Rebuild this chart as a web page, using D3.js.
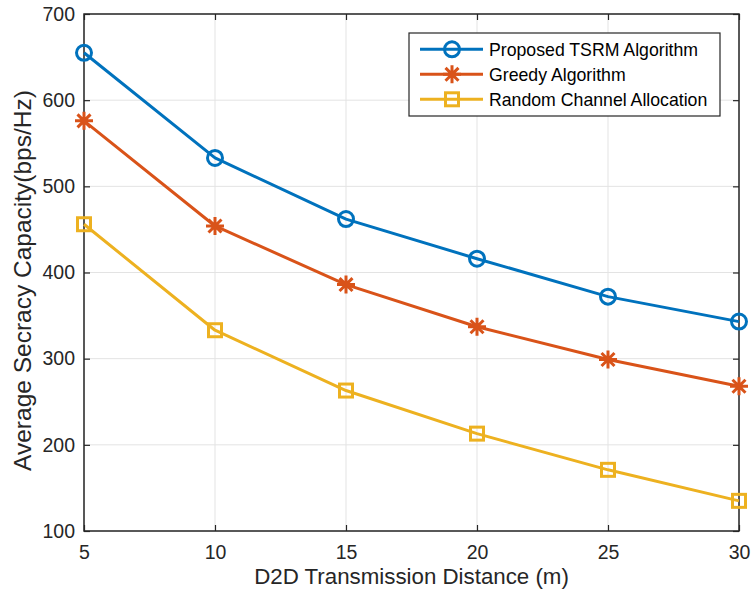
<!DOCTYPE html>
<html>
<head>
<meta charset="utf-8">
<script src="https://cdn.jsdelivr.net/npm/d3@7"></script>
<style>
  html, body { margin: 0; padding: 0; background: #fff; }
  svg { display: block; font-family: "Liberation Sans", Arial, Helvetica, sans-serif; }
</style>
</head>
<body>
<svg id="chart" width="751" height="600"></svg>
<script>
// Transmission distance (m)
const distances = [5, 10, 15, 20, 25, 30];
// Average secrecy capacity (bps/Hz) per scheme
const tsrmValues   = [655, 533, 462, 416, 372, 343];
const greedyValues = [576, 454, 386, 337, 299, 268];
const randomValues = [456, 333, 263, 213, 171, 135];
const seriesNames = ["Proposed TSRM Algorithm", "Greedy Algorithm", "Random Channel Allocation"];
const xTicks = [5, 10, 15, 20, 25, 30];
const yTicks = [100, 200, 300, 400, 500, 600, 700];

const series = [
  { name: seriesNames[0], values: tsrmValues,   color: "#0072BD", marker: "circle" },
  { name: seriesNames[1], values: greedyValues, color: "#D95319", marker: "asterisk" },
  { name: seriesNames[2], values: randomValues, color: "#EDB120", marker: "square" }
];

const svg = d3.select("#chart");
const plotL = 84, plotR = 739, plotT = 14, plotB = 531;

const x = d3.scaleLinear().domain([5, 30]).range([plotL, plotR]);
const y = d3.scaleLinear().domain([100, 700]).range([plotB, plotT]);

// Grid lines
const grid = svg.append("g").attr("stroke", "#e3e3e3").attr("stroke-width", 1);
xTicks.forEach(t => grid.append("line")
  .attr("x1", x(t)).attr("x2", x(t)).attr("y1", plotT).attr("y2", plotB));
yTicks.forEach(t => grid.append("line")
  .attr("x1", plotL).attr("x2", plotR).attr("y1", y(t)).attr("y2", y(t)));

// Axes box
svg.append("rect").attr("x", plotL).attr("y", plotT)
  .attr("width", plotR - plotL).attr("height", plotB - plotT)
  .attr("fill", "none").attr("stroke", "#262626").attr("stroke-width", 1.5);

const xAxis = svg.append("g").attr("transform", `translate(0,${plotB})`)
  .call(d3.axisBottom(x).tickValues(xTicks).tickSize(-6).tickPadding(14).tickFormat(d3.format("d")));
const xAxisTop = svg.append("g").attr("transform", `translate(0,${plotT})`)
  .call(d3.axisTop(x).tickValues(xTicks).tickSize(-6).tickFormat(""));
const yAxis = svg.append("g").attr("transform", `translate(${plotL},0)`)
  .call(d3.axisLeft(y).tickValues(yTicks).tickSize(-6).tickPadding(9).tickFormat(d3.format("d")));
const yAxisRight = svg.append("g").attr("transform", `translate(${plotR},0)`)
  .call(d3.axisRight(y).tickValues(yTicks).tickSize(-6).tickFormat(""));

[xAxis, xAxisTop, yAxis, yAxisRight].forEach(g => {
  g.select(".domain").remove();
  g.selectAll(".tick line").attr("stroke", "#262626").attr("stroke-width", 1.2);
  g.selectAll(".tick text").attr("fill", "#262626").attr("font-size", 19.5)
    .attr("font-family", "Liberation Sans, Arial, sans-serif");
});

// Axis titles
svg.append("text").attr("x", (plotL + plotR) / 2).attr("y", 584)
  .attr("text-anchor", "middle").attr("font-size", 22.3).attr("fill", "#262626")
  .text("D2D Transmission Distance (m)");
svg.append("text")
  .attr("transform", `translate(30.5,280.5) rotate(-90)`)
  .attr("text-anchor", "middle").attr("font-size", 24.5).attr("fill", "#262626")
  .text("Average Secracy Capacity(bps/Hz)");

function drawMarker(g, type, cx, cy, color) {
  if (type === "circle") {
    g.append("circle").attr("cx", cx).attr("cy", cy).attr("r", 7.5)
      .attr("fill", "none").attr("stroke", color).attr("stroke-width", 3);
  } else if (type === "square") {
    g.append("rect").attr("x", cx - 6.5).attr("y", cy - 6.5).attr("width", 13).attr("height", 13)
      .attr("fill", "none").attr("stroke", color).attr("stroke-width", 3);
  } else {
    const r = 9;
    const p = d3.path();
    p.moveTo(cx - r, cy); p.lineTo(cx + r, cy);
    p.moveTo(cx, cy - r); p.lineTo(cx, cy + r);
    const d = r * 0.72;
    p.moveTo(cx - d, cy - d); p.lineTo(cx + d, cy + d);
    p.moveTo(cx - d, cy + d); p.lineTo(cx + d, cy - d);
    g.append("path").attr("d", p.toString()).attr("stroke", color).attr("stroke-width", 3)
      .attr("stroke-linecap", "butt");
  }
}

const line = d3.line().x((d, i) => x(distances[i])).y(d => y(d));
series.forEach(s => {
  const g = svg.append("g");
  g.append("path").datum(s.values).attr("d", line)
    .attr("fill", "none").attr("stroke", s.color).attr("stroke-width", 3)
    .attr("stroke-linejoin", "round");
  s.values.forEach((v, i) => drawMarker(g, s.marker, x(distances[i]), y(v), s.color));
});

// Legend
const lg = svg.append("g");
lg.append("rect").attr("x", 409).attr("y", 33).attr("width", 311).attr("height", 83)
  .attr("fill", "#fff").attr("stroke", "#262626").attr("stroke-width", 1.2);
series.forEach((s, i) => {
  const ly = 49.3 + i * 25;
  lg.append("line").attr("x1", 420).attr("x2", 483).attr("y1", ly).attr("y2", ly)
    .attr("stroke", s.color).attr("stroke-width", 3);
  drawMarker(lg, s.marker, 452, ly, s.color);
  lg.append("text").attr("x", 489).attr("y", ly + 6.3).attr("font-size", 17.7)
    .attr("fill", "#000").text(s.name);
});
</script>
</body>
</html>
